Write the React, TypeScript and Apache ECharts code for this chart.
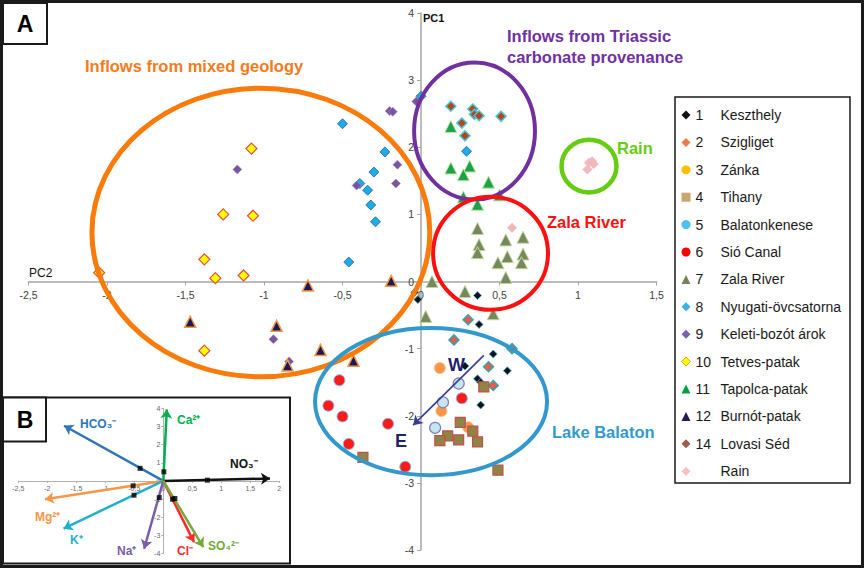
import React, { useEffect, useRef } from "react";
import * as echarts from "echarts";

// ---------- Data ----------
const xTicks = { min: -2.5, max: 1.5, step: 0.5 };
const yTicks = { min: -4, max: 4, step: 1 };

const keszthely = [[0.36, -0.21], [0.37, -0.64], [0.46, -1.08], [0.55, -1.33], [0.36, -1.45], [0.38, -1.5], [0.38, -1.84], [0.28, -1.26], [-0.04, -0.16], [-0.02, -0.27]];
const szigliget = [[0.3, -0.57], [0.21, -0.87], [0.43, -1.27], [0.46, -1.55], [0.58, -1.0]];
const zanka = [[0.12, -1.29], [0.13, -1.93], [0.3, -2.17]];
const tihany = [[0.4, -1.57], [0.25, -2.1], [0.33, -2.23], [0.17, -2.3], [0.12, -2.37], [0.24, -2.36], [0.36, -2.39], [0.49, -2.81], [-0.37, -2.62]];
const balatonkenese = [[0.24, -1.52], [0.14, -1.8], [0.09, -2.18]];
const sioCanal = [[0.26, -1.74], [-0.52, -1.47], [-0.59, -1.85], [-0.5, -2.01], [-0.21, -2.12], [-0.46, -2.42], [-0.1, -2.76]];
const zalaRiver = [[0.36, 0.79], [0.37, 0.55], [0.36, 0.43], [0.54, 0.62], [0.65, 0.66], [0.55, 0.37], [0.65, 0.41], [0.49, 0.28], [0.64, 0.28], [0.54, 0.06], [0.07, 0.0], [0.28, -0.15], [0.46, -0.48], [0.03, -0.52]];
const nyugati = [[-0.5, 2.35], [-0.23, 1.93], [-0.3, 1.63], [-0.39, 1.46], [-0.34, 1.36], [-0.32, 1.14], [-0.29, 0.89], [-0.46, 0.29], [0.29, 1.94], [0.0, 2.76]];
const keleti = [[-1.17, 1.67], [-0.2, 2.54], [-0.18, 2.53], [-0.15, 1.74], [-0.16, 1.46], [-0.41, 1.43], [-0.03, 2.68], [-0.94, -0.86], [-0.84, -1.19]];
const tetves = [[-1.08, 1.98], [-1.26, 1.0], [-1.07, 0.98], [-1.38, 0.33], [-1.31, 0.05], [-1.13, 0.09], [-2.05, 0.13], [-1.38, -1.03]];
const tapolca = [[0.19, 2.31], [0.19, 1.69], [0.31, 1.72], [0.27, 1.59], [0.43, 1.48], [0.27, 1.26], [0.36, 1.15], [0.5, 1.29]];
const burnot = [[-0.72, -0.06], [-0.19, 0.01], [-1.47, -0.6], [-0.92, -0.66], [-0.64, -1.02], [-0.43, -1.18], [-0.85, -1.25]];
const lovasi = [[0.19, 2.61], [0.33, 2.57], [0.34, 2.49], [0.37, 2.47], [0.26, 2.36], [0.28, 2.17], [0.51, 2.46]];
const rain = [[1.07, 1.77], [1.09, 1.79], [1.06, 1.67], [1.1, 1.75], [0.58, 0.8]];

// group ellipses (data units): center x, center y, radius x, radius y
const ellipseNames = ["mixed", "triassic", "zala", "rain", "balaton"];
const ellipseGeom = [[-1.02, 0.73, 1.076, 2.15], [0.341, 2.242, 0.385, 1.022], [0.443, 0.421, 0.366, 0.843], [1.07, 1.72, 0.175, 0.393], [0.064, -1.788, 0.739, 1.097]];

// W -> E arrow (data units)
const weArrow = [[0.4, -1.1], [-0.05, -2.14]];

// inset B: loadings (arrow tips) and marker points
const ionNames = ["HCO3", "Ca", "NO3", "Mg", "K", "Na", "Cl", "SO4"];
const ionTips = [[-1.71, 3.04], [0.06, 3.94], [1.84, 0.13], [-2.04, -1.01], [-1.72, -2.63], [-0.33, -3.74], [0.53, -3.37], [0.69, -3.65]];
const ionMarks = [[-0.4, 0.69], [0.01, 0.5], [0.76, 0.04], [-0.52, -0.27], [-0.505, -0.79], [-0.07, -0.92], [0.16, -1.01], [0.2, -0.97]];
const insetX = { min: -2.5, max: 2, step: 0.5 };
const insetY = { min: -4, max: 4, step: 1 };

// ---------- Layout ----------
const W = 865;
const H = 569;
const mainGrid = { left: 28.5, right: 208.5, top: 13, bottom: 19 };
const insetGrid = { left: 18.3, right: 585.7, top: 408.3, bottom: 15.5 };

// pixel offset that moves an axis from the grid edge to the other axis' zero
function zeroOffsets(g: any, xr: any, yr: any) {
  const gw = W - g.left - g.right;
  const gh = H - g.top - g.bottom;
  const zeroX = g.left + ((0 - xr.min) / (xr.max - xr.min)) * gw;
  const zeroY = g.top + ((yr.max - 0) / (yr.max - yr.min)) * gh;
  return { x: -(H - g.bottom - zeroY), y: -(zeroX - g.left) };
}
const mainOff = zeroOffsets(mainGrid, xTicks, yTicks);
const insetOff = zeroOffsets(insetGrid, insetX, insetY);

// ---------- Styles ----------
const FONT = "'Liberation Sans', Arial, sans-serif";

const seriesDefs = [
  { num: "1", name: "Keszthely", data: keszthely, symbol: "diamond", size: 8, color: "#12121e", border: "#4bacc6", bw: 0.8, legendColor: "#111111", legendBorder: "#111111" },
  { num: "2", name: "Szigliget", data: szigliget, symbol: "diamond", size: 10, color: "#e85c4a", border: "#31a6b0", bw: 1.5, legendColor: "#ec7d4a", legendBorder: "#ec7d4a" },
  { num: "3", name: "Zánka", data: zanka, symbol: "circle", size: 11, color: "#f79646", border: "#fbc08a", bw: 1, legendColor: "#ffc000", legendBorder: "#ffc000" },
  { num: "4", name: "Tihany", data: tihany, symbol: "rect", size: 10, color: "#8f8443", border: "#c0504d", bw: 1.2, legendColor: "#c9a66b", legendBorder: "#c9a66b" },
  { num: "5", name: "Balatonkenese", data: balatonkenese, symbol: "circle", size: 11, color: "#c6e6ee", border: "#7f7fb0", bw: 1.2, legendColor: "#4bc0ec", legendBorder: "#4bc0ec" },
  { num: "6", name: "Sió Canal", data: sioCanal, symbol: "circle", size: 11, color: "#ff1a1a", border: "#8db3e2", bw: 1, legendColor: "#ff0000", legendBorder: "#ff0000" },
  { num: "7", name: "Zala River", data: zalaRiver, symbol: "triangle", size: 12, color: "#77875e", border: "#c3d69b", bw: 1, legendColor: "#77835a", legendBorder: "#77835a" },
  { num: "8", name: "Nyugati-övcsatorna", data: nyugati, symbol: "diamond", size: 10, color: "#1aaee8", border: "#2f5597", bw: 0.8, legendColor: "#37b1e8", legendBorder: "#37b1e8" },
  { num: "9", name: "Keleti-bozót árok", data: keleti, symbol: "diamond", size: 9, color: "#7a54a0", border: "#9d8bbf", bw: 0.6, legendColor: "#7a62a8", legendBorder: "#7a62a8" },
  { num: "10", name: "Tetves-patak", data: tetves, symbol: "diamond", size: 11, color: "#ffff00", border: "#e0503a", bw: 1.2, legendColor: "#ffff00", legendBorder: "#f0a020" },
  { num: "11", name: "Tapolca-patak", data: tapolca, symbol: "triangle", size: 12, color: "#1aa34a", border: "#c3e6a0", bw: 1, legendColor: "#00a040", legendBorder: "#00a040" },
  { num: "12", name: "Burnót-patak", data: burnot, symbol: "triangle", size: 11, color: "#1a1a5a", border: "#f79646", bw: 1.5, legendColor: "#2a1a5a", legendBorder: "#2a1a5a" },
  { num: "14", name: "Lovasi Séd", data: lovasi, symbol: "diamond", size: 10, color: "#b5451b", border: "#4bc6d6", bw: 1.5, legendColor: "#a05a50", legendBorder: "#a05a50" },
  { num: "", name: "Rain", data: rain, symbol: "diamond", size: 10, color: "#f2b8bc", border: "#f2b8bc", bw: 0, legendColor: "#f5c3c0", legendBorder: "#f5c3c0" },
];

const ellipseStyles: Record<string, { color: string; width: number }> = {
  mixed: { color: "#fa7a0a", width: 5 },
  triassic: { color: "#7030a0", width: 4 },
  zala: { color: "#ff1010", width: 4 },
  rain: { color: "#66cc11", width: 4.5 },
  balaton: { color: "#3399cc", width: 4 },
};

const ionStyles: Record<string, { color: string; label: string; lx: number; ly: number }> = {
  HCO3: { color: "#2e75b6", label: "HCO₃⁻", lx: 80, ly: 424 },
  Ca: { color: "#00b050", label: "Ca²⁺", lx: 177, ly: 420 },
  NO3: { color: "#111111", label: "NO₃⁻", lx: 230, ly: 464 },
  Mg: { color: "#f79646", label: "Mg²⁺", lx: 35, ly: 517 },
  K: { color: "#1fb0cc", label: "K⁺", lx: 70, ly: 540 },
  Na: { color: "#7b5ea7", label: "Na⁺", lx: 117, ly: 551 },
  Cl: { color: "#ff2a2a", label: "Cl⁻", lx: 177, ly: 551 },
  SO4: { color: "#77a83a", label: "SO₄²⁻", lx: 208, ly: 546 },
};

const comma = (v: number) => String(v).replace(".", ",");

function text(x: number, y: number, t: string, font: string, fill: string, align = "left") {
  return {
    type: "text",
    x,
    y,
    z: 20,
    silent: true,
    style: { text: t, font, fill, textAlign: align, align, textVerticalAlign: "middle", verticalAlign: "middle" },
  };
}

export default function App() {
  const ref = useRef<HTMLDivElement>(null);

  useEffect(() => {
    if (!ref.current) return;
    const chart = echarts.init(ref.current, undefined, { renderer: "svg" });

    const scatterSeries = seriesDefs.map((s) => ({
      type: "scatter",
      name: s.name,
      xAxisIndex: 0,
      yAxisIndex: 0,
      symbol: s.symbol,
      symbolSize: s.size,
      data: s.data,
      z: 2,
      itemStyle: { color: s.color, borderColor: s.border, borderWidth: s.bw, opacity: 1 },
    }));

    const ellipseSeries = {
      type: "custom",
      name: "groups",
      xAxisIndex: 0,
      yAxisIndex: 0,
      z: 3,
      silent: true,
      data: ellipseGeom,
      renderItem: (params: any, api: any) => {
        const c = api.coord([api.value(0), api.value(1)]);
        const s = api.size([api.value(2), api.value(3)]);
        const st = ellipseStyles[ellipseNames[params.dataIndex]];
        return {
          type: "ellipse",
          shape: { cx: c[0], cy: c[1], rx: s[0], ry: s[1] },
          style: { fill: "none", stroke: st.color, lineWidth: st.width },
        };
      },
    };

    const arrowSeries = {
      type: "lines",
      coordinateSystem: "cartesian2d",
      xAxisIndex: 0,
      yAxisIndex: 0,
      z: 4,
      silent: true,
      symbol: ["none", "arrow"],
      symbolSize: 9,
      lineStyle: { color: "#3b3b8f", width: 1.6, opacity: 1 },
      data: [{ coords: weArrow }],
    };

    const insetArrows = {
      type: "lines",
      coordinateSystem: "cartesian2d",
      xAxisIndex: 1,
      yAxisIndex: 1,
      z: 6,
      silent: true,
      symbol: ["none", "arrow"],
      symbolSize: 9,
      data: ionNames.map((n, i) => ({
        coords: [[0, 0], ionTips[i]],
        lineStyle: { color: ionStyles[n].color, width: 2.5, opacity: 1 },
      })),
    };

    const insetMarks = {
      type: "scatter",
      xAxisIndex: 1,
      yAxisIndex: 1,
      z: 7,
      silent: true,
      symbol: "rect",
      symbolSize: 5,
      itemStyle: { color: "#000" },
      data: ionMarks,
    };

    const legendData = seriesDefs.map((s) => ({
      name: s.name,
      icon: s.symbol,
      itemStyle: { color: s.legendColor, borderColor: s.legendBorder, borderWidth: s.name === "Tetves-patak" ? 1 : 0 },
    }));
    const numOf: Record<string, string> = {};
    seriesDefs.forEach((s) => (numOf[s.name] = s.num));

    const mainAxisLine = { lineStyle: { color: "#a6a6a6", width: 1.5 } };
    const insetAxisLine = { lineStyle: { color: "#b0b0b0", width: 1 } };

    const option: any = {
      animation: false,
      backgroundColor: "#ffffff",
      textStyle: { fontFamily: FONT },
      grid: [mainGrid, insetGrid],
      xAxis: [
        {
          type: "value",
          gridIndex: 0,
          position: "bottom",
          offset: mainOff.x,
          min: xTicks.min,
          max: xTicks.max,
          interval: xTicks.step,
          axisLine: { show: true, onZero: false, ...mainAxisLine },
          axisTick: { show: true, length: 4, lineStyle: { color: "#a6a6a6" } },
          axisLabel: { formatter: comma, fontSize: 10.5, color: "#404040", margin: 8, fontFamily: FONT },
          splitLine: { show: false },
        },
        {
          type: "value",
          gridIndex: 1,
          position: "bottom",
          offset: insetOff.x,
          z: 5,
          min: insetX.min,
          max: insetX.max,
          interval: insetX.step,
          axisLine: { show: true, onZero: false, ...insetAxisLine },
          axisTick: { show: true, length: 2, lineStyle: { color: "#b0b0b0" } },
          axisLabel: { formatter: comma, fontSize: 7, color: "#666", margin: 4, fontFamily: FONT },
          splitLine: { show: false },
        },
      ],
      yAxis: [
        {
          type: "value",
          gridIndex: 0,
          position: "left",
          offset: mainOff.y,
          min: yTicks.min,
          max: yTicks.max,
          interval: yTicks.step,
          axisLine: { show: true, onZero: false, ...mainAxisLine },
          axisTick: { show: true, length: 4, lineStyle: { color: "#a6a6a6" } },
          axisLabel: { formatter: comma, fontSize: 10.5, color: "#404040", margin: 7, fontFamily: FONT },
          splitLine: { show: false },
        },
        {
          type: "value",
          gridIndex: 1,
          position: "left",
          offset: insetOff.y,
          z: 5,
          min: insetY.min,
          max: insetY.max,
          interval: insetY.step,
          axisLine: { show: true, onZero: false, ...insetAxisLine },
          axisTick: { show: true, length: 2, lineStyle: { color: "#b0b0b0" } },
          axisLabel: { formatter: comma, fontSize: 7, color: "#666", margin: 3, fontFamily: FONT },
          splitLine: { show: false },
        },
      ],
      legend: {
        show: true,
        orient: "vertical",
        left: 681,
        top: 108,
        padding: 0,
        itemWidth: 9,
        itemHeight: 9,
        itemGap: 13.4,
        selectedMode: false,
        data: legendData,
        formatter: (name: string) => `{n|${numOf[name]}}{t|${name}}`,
        textStyle: {
          fontFamily: FONT,
          fontSize: 14,
          color: "#1a1a1a",
          rich: {
            n: { width: 25, fontSize: 14, lineHeight: 14, color: "#1a1a1a", fontFamily: FONT },
            t: { fontSize: 14, lineHeight: 14, color: "#1a1a1a", fontFamily: FONT },
          },
        },
      },
      graphic: [
        // outer frame
        { type: "rect", z: 30, silent: true, shape: { x: 1.5, y: 1.5, width: 861, height: 565 }, style: { fill: "none", stroke: "#1a1a1a", lineWidth: 3 } },
        // A box
        { type: "rect", z: 30, silent: true, shape: { x: 3, y: 3, width: 44, height: 41 }, style: { fill: "#fff", stroke: "#1a1a1a", lineWidth: 2 } },
        { ...text(25, 24, "A", `bold 23px ${FONT}`, "#000", "center"), z: 31 },
        // legend box
        { type: "rect", z: 1, silent: true, shape: { x: 675, y: 97, width: 175, height: 386 }, style: { fill: "#fff", stroke: "#1a1a1a", lineWidth: 1.5 } },
        // inset box
        { type: "rect", z: 1, silent: true, shape: { x: 3, y: 397.5, width: 287, height: 166 }, style: { fill: "#fff", stroke: "#1a1a1a", lineWidth: 2 } },
        { type: "rect", z: 30, silent: true, shape: { x: 3, y: 397.5, width: 43, height: 44 }, style: { fill: "#fff", stroke: "#1a1a1a", lineWidth: 2 } },
        { ...text(25, 420, "B", `bold 23px ${FONT}`, "#000", "center"), z: 31 },
        // axis names
        text(423, 18, "PC1", `bold 11px ${FONT}`, "#111"),
        text(29, 273, "PC2", `12px ${FONT}`, "#111"),
        // group annotations
        text(85, 66, "Inflows from mixed geology", `bold 16.5px ${FONT}`, "#f47b20"),
        text(507, 36, "Inflows from Triassic", `bold 16.5px ${FONT}`, "#7030a0"),
        text(507, 57, "carbonate provenance", `bold 16.5px ${FONT}`, "#7030a0"),
        text(617, 148, "Rain", `bold 16.5px ${FONT}`, "#66cc11"),
        text(547, 222, "Zala River", `bold 16.5px ${FONT}`, "#ff1010"),
        text(552, 432, "Lake Balaton", `bold 16.5px ${FONT}`, "#3399cc"),
        text(448, 365, "W", `bold 18px ${FONT}`, "#1f1f6b"),
        text(395, 441, "E", `bold 18px ${FONT}`, "#1f1f6b"),
        // inset ion labels
        ...ionNames.map((n) => text(ionStyles[n].lx, ionStyles[n].ly, ionStyles[n].label, `bold 12px ${FONT}`, ionStyles[n].color)),
      ],
      series: [...scatterSeries, ellipseSeries, arrowSeries, insetArrows, insetMarks],
    };

    chart.setOption(option);
    return () => chart.dispose();
  }, []);

  return <div ref={ref} style={{ position: "fixed", left: 0, top: 0, width: 865, height: 569 }} />;
}
